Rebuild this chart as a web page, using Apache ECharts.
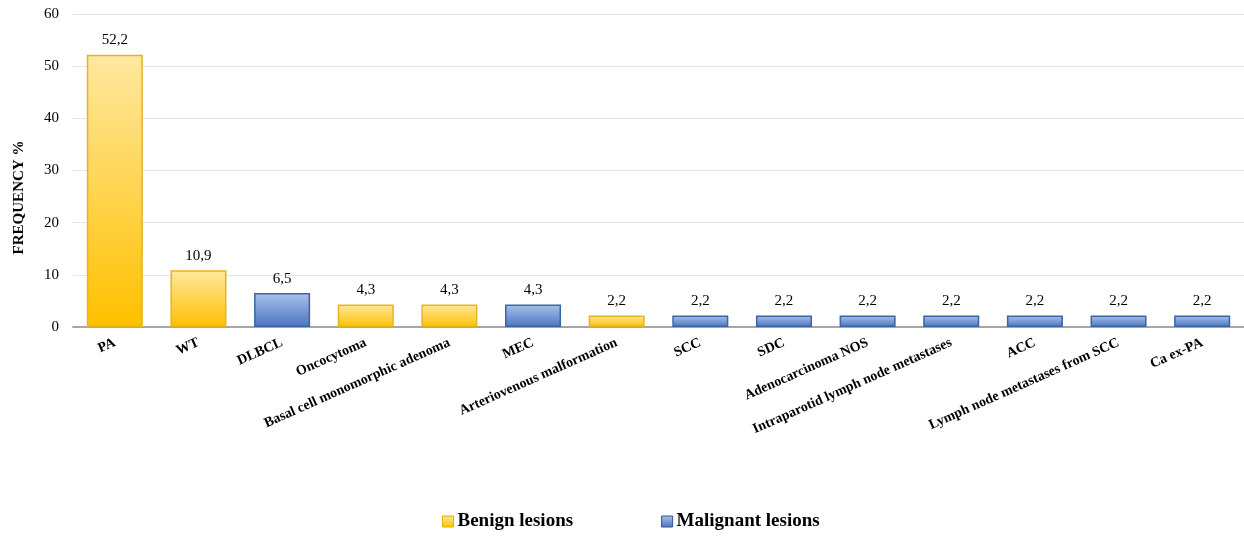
<!DOCTYPE html>
<html>
<head>
<meta charset="utf-8">
<script src="https://cdn.jsdelivr.net/npm/echarts@6/dist/echarts.min.js"></script>
<style>
html,body{margin:0;padding:0;background:#fff;}
#chart{width:1244px;height:536px;}
</style>
</head>
<body>
<div id="chart"></div>
<script>
// Lesion types and their frequency (%), split by benign / malignant
const categories = ['PA', 'WT', 'DLBCL', 'Oncocytoma', 'Basal cell monomorphic adenoma', 'MEC',
  'Arteriovenous malformation', 'SCC', 'SDC', 'Adenocarcinoma NOS',
  'Intraparotid lymph node metastases', 'ACC', 'Lymph node metastases from SCC', 'Ca ex-PA'];
const benign =    [52.2, 10.9, null, 4.3, 4.3, null, 2.2, null, null, null, null, null, null, null];
const malignant = [null, null, 6.5, null, null, 4.3, null, 2.2, 2.2, 2.2, 2.2, 2.2, 2.2, 2.2];
const yTicks = [0, 10, 20, 30, 40, 50, 60];

const serif = '"Liberation Serif", "Times New Roman", serif';

const yellowFill = new echarts.graphic.LinearGradient(0, 0, 0, 1, [
  { offset: 0, color: '#FFE8A0' },
  { offset: 1, color: '#FFC000' }
]);
const blueFill = new echarts.graphic.LinearGradient(0, 0, 0, 1, [
  { offset: 0, color: '#A9C1EA' },
  { offset: 1, color: '#4A75C2' }
]);

const valueLabel = {
  show: true,
  position: 'top',
  distance: 7,
  fontFamily: serif,
  fontSize: 15,
  color: '#000',
  formatter: p => p.value == null ? '' : p.value.toFixed(1).replace('.', ',')
};

const chart = echarts.init(document.getElementById('chart'), null, { renderer: 'canvas' });
chart.setOption({
  animation: false,
  backgroundColor: '#fff',
  grid: { left: 73, right: -2, top: 14, bottom: 209, containLabel: false },
  legend: {
    top: 507,
    left: 437,
    itemGap: 88,
    itemWidth: 11,
    itemHeight: 11,
    textStyle: { fontFamily: serif, fontWeight: 'bold', fontSize: 19, color: '#000', padding: [0, 0, 0, -1] },
    data: [
      { name: 'Benign lesions', icon: 'rect', itemStyle: { color: yellowFill, borderColor: '#E0B000', borderWidth: 1 } },
      { name: 'Malignant lesions', icon: 'rect', itemStyle: { color: blueFill, borderColor: '#2F5597', borderWidth: 1 } }
    ]
  },
  xAxis: {
    type: 'category',
    data: categories,
    axisTick: { show: false },
    axisLine: { lineStyle: { color: '#A6A6A6', width: 2 } },
    axisLabel: {
      interval: 0,
      rotate: 24,
      margin: 15,
      fontFamily: serif,
      fontWeight: 'bold',
      fontSize: 14,
      color: '#000'
    }
  },
  yAxis: {
    type: 'value',
    min: 0,
    max: 60,
    interval: 10,
    name: 'FREQUENCY %',
    nameLocation: 'middle',
    nameGap: 46,
    nameRotate: 90,
    nameTextStyle: { fontFamily: serif, fontWeight: 'bold', fontSize: 15, color: '#000', padding: [0, 54, 0, 0] },
    axisLine: { show: false },
    axisTick: { show: false },
    axisLabel: {
      margin: 14,
      fontFamily: serif,
      fontSize: 15,
      color: '#000',
      formatter: v => yTicks.includes(v) ? String(v) : ''
    },
    splitLine: { lineStyle: { color: '#E3E3E3', width: 1 } }
  },
  series: [
    {
      name: 'Benign lesions',
      type: 'bar',
      stack: 'lesions',
      barWidth: '67%',
      data: benign,
      itemStyle: { color: yellowFill, borderColor: '#E6B422', borderWidth: 1.5 },
      label: valueLabel
    },
    {
      name: 'Malignant lesions',
      type: 'bar',
      stack: 'lesions',
      barWidth: '67%',
      data: malignant,
      itemStyle: { color: blueFill, borderColor: '#3A64A8', borderWidth: 1.5 },
      label: valueLabel
    }
  ]
});
</script>
</body>
</html>
